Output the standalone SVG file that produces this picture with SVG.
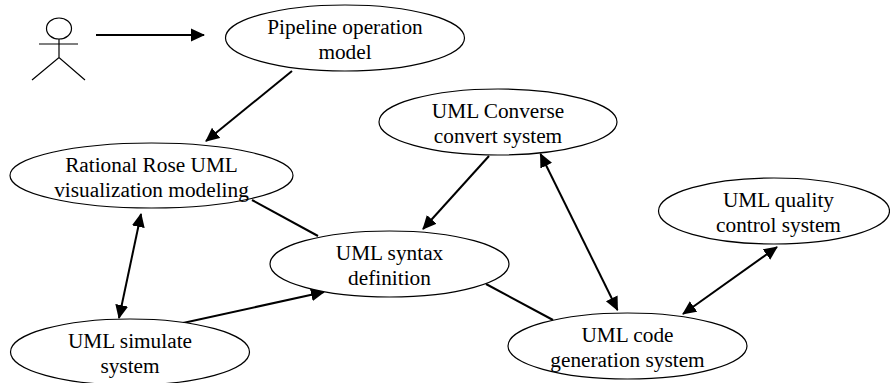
<svg xmlns="http://www.w3.org/2000/svg" width="890" height="383" viewBox="0 0 890 383">
<style>
.n{fill:#fff;stroke:#000;stroke-width:1.2}
.l{fill:none;stroke:#000;stroke-width:2}
.a{fill:none;stroke:#000;stroke-width:1.2}
text{font-family:"Liberation Serif","Times New Roman",serif;font-size:21.3px;fill:#000;text-anchor:middle}
</style>
<defs>
<marker id="h" markerUnits="userSpaceOnUse" markerWidth="16" markerHeight="14" refX="13" refY="7" orient="auto-start-reverse"><path d="M0 0.5L14 7L0 13.5Z" fill="#000"/></marker>
</defs>
<g id="connectors">
<line class="l" x1="96" y1="35" x2="204" y2="35" marker-end="url(#h)"/>
<line class="l" x1="292" y1="71" x2="206" y2="141" marker-end="url(#h)"/>
<line class="l" x1="489" y1="156" x2="423" y2="229" marker-end="url(#h)"/>
<line class="l" x1="252" y1="200" x2="318" y2="236"/>
<line class="l" x1="486" y1="284" x2="553" y2="320"/>
<line class="l" x1="540.500" y1="154" x2="617.500" y2="310" marker-start="url(#h)" marker-end="url(#h)"/>
<line class="l" x1="777" y1="247" x2="683" y2="314" marker-start="url(#h)" marker-end="url(#h)"/>
<line class="l" x1="141" y1="214" x2="119" y2="318" marker-start="url(#h)" marker-end="url(#h)"/>
<line class="l" x1="183" y1="323" x2="324" y2="292" marker-end="url(#h)"/>
</g>
<g id="actor">
<ellipse class="a" cx="59" cy="28.500" rx="12.500" ry="10.500"/>
<path class="a" d="M39 44H78M59 39V57.500M32 80L59 57.500L85 80"/>
</g>
<g id="pipeline"><ellipse class="n" cx="345" cy="38" rx="119.500" ry="33"/><text x="345" y="34">Pipeline operation</text><text x="345" y="59">model</text></g>
<g id="rational"><ellipse class="n" cx="151.500" cy="175.500" rx="141.500" ry="32.500"/><text x="151.500" y="172">Rational Rose UML</text><text x="151.500" y="197">visualization modeling</text></g>
<g id="converse"><ellipse class="n" cx="498" cy="122" rx="119" ry="33"/><text x="498" y="118">UML Converse</text><text x="498" y="143">convert system</text></g>
<g id="quality"><ellipse class="n" cx="774" cy="211" rx="115.500" ry="33"/><text x="778.500" y="207">UML quality</text><text x="778.500" y="232">control system</text></g>
<g id="syntax"><ellipse class="n" cx="389.500" cy="264" rx="119.500" ry="33"/><text x="389.500" y="260">UML syntax</text><text x="389.500" y="285">definition</text></g>
<g id="code"><ellipse class="n" cx="627.500" cy="346" rx="119.500" ry="33"/><text x="627.500" y="342">UML code</text><text x="627.500" y="367">generation system</text></g>
<g id="simulate"><ellipse class="n" cx="130" cy="352" rx="119.500" ry="33"/><text x="130" y="348">UML simulate</text><text x="130" y="373">system</text></g>
</svg>
